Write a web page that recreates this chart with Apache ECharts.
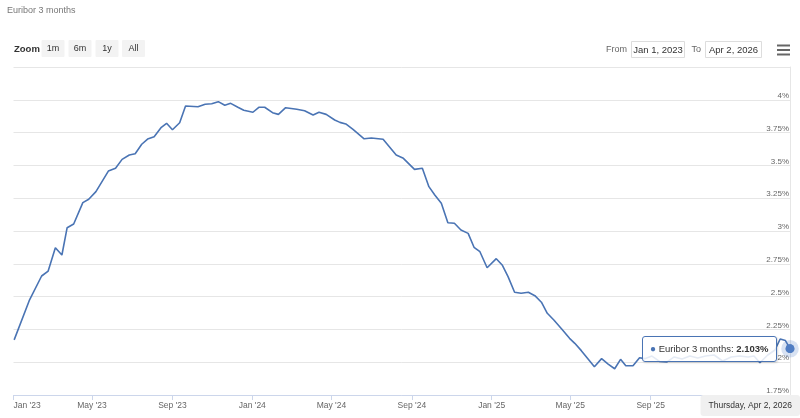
<!DOCTYPE html>
<html>
<head>
<meta charset="utf-8">
<script src="https://cdn.jsdelivr.net/npm/echarts@6/dist/echarts.min.js"></script>
<style>
html,body{margin:0;padding:0;background:#fff;}
#chart{width:800px;height:418px;}
</style>
</head>
<body>
<div id="chart"></div>
<script>
const seriesName = 'Euribor 3 months';
const dates = [
'2023-01-02','2023-01-25','2023-02-13','2023-02-23','2023-03-06','2023-03-16','2023-03-24','2023-04-03','2023-04-17','2023-04-26',
'2023-05-07','2023-05-26','2023-06-06','2023-06-16','2023-06-27','2023-07-06','2023-07-16','2023-07-25','2023-08-04','2023-08-15',
'2023-08-23','2023-09-01','2023-09-12','2023-09-21','2023-10-10','2023-10-21','2023-10-31','2023-11-10','2023-11-20','2023-11-29',
'2023-12-10','2023-12-19','2024-01-02','2024-01-11','2024-01-20','2024-02-01','2024-02-10','2024-02-21','2024-03-09','2024-03-21',
'2024-04-03','2024-04-12','2024-04-23','2024-05-06','2024-05-14','2024-05-23','2024-06-03','2024-06-20','2024-07-01','2024-07-19',
'2024-08-08','2024-08-19','2024-09-05','2024-09-17','2024-09-27','2024-10-06','2024-10-16','2024-10-26','2024-11-05','2024-11-15',
'2024-11-26','2024-12-05','2024-12-14','2024-12-25','2025-01-08','2025-01-17','2025-01-26','2025-02-05','2025-02-15','2025-02-26',
'2025-03-08','2025-03-18','2025-03-27','2025-04-06','2025-04-18','2025-04-30','2025-05-08','2025-05-18','2025-06-07','2025-06-18',
'2025-06-28','2025-07-08','2025-07-17','2025-07-25','2025-08-05','2025-08-15','2025-08-23','2025-09-03','2025-09-15','2025-09-26',
'2025-10-07','2025-10-19','2025-10-31','2025-11-12','2025-11-24','2025-12-07','2025-12-20','2026-01-02','2026-01-15','2026-01-28',
'2026-02-06','2026-02-15','2026-02-27','2026-03-10','2026-03-18','2026-03-26','2026-04-02'
];
const values = [
2.170,2.469,2.657,2.695,2.873,2.817,3.025,3.053,3.216,3.242,
3.300,3.457,3.478,3.546,3.579,3.589,3.661,3.701,3.719,3.790,
3.821,3.772,3.825,3.953,3.947,3.966,3.970,3.986,3.958,3.973,
3.943,3.920,3.905,3.943,3.943,3.902,3.889,3.940,3.928,3.917,
3.884,3.905,3.889,3.846,3.828,3.816,3.775,3.703,3.709,3.699,
3.579,3.554,3.470,3.478,3.338,3.274,3.211,3.063,3.059,3.008,
2.982,2.876,2.842,2.720,2.789,2.741,2.652,2.533,2.525,2.533,
2.507,2.457,2.373,2.322,2.253,2.182,2.144,2.088,1.966,2.027,
1.986,1.950,2.022,1.973,1.973,2.034,2.027,2.047,2.005,2.002,
2.040,2.024,2.047,2.032,2.047,2.055,2.009,2.040,2.047,2.040,
2.047,1.996,2.055,2.093,2.177,2.165,2.103
];
const tickDates = ['2023-01-01','2023-05-01','2023-09-01','2024-01-01','2024-05-01','2024-09-01','2025-01-01','2025-05-01','2025-09-01','2026-01-01'];
const tickLabels = ["Jan '23","May '23","Sep '23","Jan '24","May '24","Sep '24","Jan '25","May '25","Sep '25","Jan '26"];
const yTicks = [1.75,2,2.25,2.5,2.75,3,3.25,3.5,3.75,4,4.25];
const yTickLabels = ['1.75%','2%','2.25%','2.5%','2.75%','3%','3.25%','3.5%','3.75%','4%',''];
const rangeButtons = ['1m','6m','1y','All'];
const fromText = 'Jan 1, 2023';
const toText = 'Apr 2, 2026';
const xMin = '2023-01-01';
const xMax = '2026-04-02';

function ts(s){ const p = s.split('-').map(Number); return new Date(p[0], p[1]-1, p[2]).getTime(); }
const tickTimes = tickDates.map(ts);
const seriesData = dates.map((d,i)=>[ts(d), values[i]]);
const last = seriesData[seriesData.length-1];
const lineColor = '#4a74b4';
const FONT = '"Liberation Sans", Arial, sans-serif';
const WEEKDAYS = ['Sunday','Monday','Tuesday','Wednesday','Thursday','Friday','Saturday'];
const MONTHS = ['Jan','Feb','Mar','Apr','May','Jun','Jul','Aug','Sep','Oct','Nov','Dec'];

const chart = echarts.init(document.getElementById('chart'), null, {renderer:'canvas'});

const graphics = [
  {type:'text', left:7, top:6, style:{text:seriesName, fill:'#777', font:'9px '+FONT}},
  {type:'text', left:14, top:44, style:{text:'Zoom', fill:'#333', font:'bold 9.5px '+FONT}}
];
const btnX = [41.5, 68.5, 95.5, 122];
rangeButtons.forEach((b,i)=>{
  graphics.push({type:'rect', shape:{x:btnX[i], y:40, width:23, height:17, r:1}, style:{fill:'#f3f3f3'}});
  graphics.push({type:'text', x:btnX[i]+11.5, y:49, style:{text:b, fill:'#333', font:'9px '+FONT, align:'center', verticalAlign:'middle'}});
});
graphics.push({type:'text', x:627, y:50, style:{text:'From', fill:'#666', font:'9px '+FONT, align:'right', verticalAlign:'middle'}});
graphics.push({type:'rect', shape:{x:631.5, y:41.5, width:53, height:16}, style:{fill:'#fff', stroke:'#ddd', lineWidth:1}});
graphics.push({type:'text', x:658, y:50, style:{text:fromText, fill:'#333', font:'9.5px '+FONT, align:'center', verticalAlign:'middle'}});
graphics.push({type:'text', x:701, y:50, style:{text:'To', fill:'#666', font:'9px '+FONT, align:'right', verticalAlign:'middle'}});
graphics.push({type:'rect', shape:{x:705.5, y:41.5, width:56, height:16}, style:{fill:'#fff', stroke:'#ddd', lineWidth:1}});
graphics.push({type:'text', x:733.5, y:50, style:{text:toText, fill:'#333', font:'9.5px '+FONT, align:'center', verticalAlign:'middle'}});
[45.5, 50, 54.5].forEach(y=>{
  graphics.push({type:'rect', shape:{x:777, y:y-1, width:13, height:2}, style:{fill:'#666'}});
});

const option = {
  animation:false,
  backgroundColor:'#fff',
  textStyle:{fontFamily:FONT},
  grid:{left:13.5, right:10, top:67, bottom:23, containLabel:false},
  graphic:graphics,
  tooltip:{
    trigger:'axis',
    alwaysShowContent:true,
    transitionDuration:0,
    backgroundColor:'rgba(255,255,255,0.85)',
    borderColor:lineColor,
    borderWidth:1,
    padding:[5,7],
    extraCssText:'border-radius:3px;box-shadow:1px 1px 2px rgba(0,0,0,0.15);',
    textStyle:{fontFamily:FONT, fontSize:9.5, color:'#333'},
    position:function(pt, params, dom, rect, size){
      return [pt[0]-size.contentSize[0]-13, pt[1]-size.contentSize[1]/2];
    },
    formatter:function(params){
      const p = params.filter(q=>q.seriesIndex===0)[0];
      if(!p) return '';
      return '<span style="color:'+lineColor+';font-size:10px">\u25CF</span> '+seriesName+': <b>'+p.value[1].toFixed(3)+'%</b>';
    },
    axisPointer:{
      type:'line',
      lineStyle:{color:'rgba(0,0,0,0)'},
      label:{
        show:true,
        margin:0,
        backgroundColor:'#f0f0f0',
        color:'#333',
        fontSize:8.5,
        fontFamily:FONT,
        padding:[6,8,6,8],
        shadowBlur:0,
        formatter:function(p){
          const d = new Date(p.value);
          return WEEKDAYS[d.getDay()]+', '+MONTHS[d.getMonth()]+' '+d.getDate()+', '+d.getFullYear();
        }
      }
    }
  },
  xAxis:{
    type:'value',
    min:ts(xMin),
    max:ts(xMax),
    axisLine:{show:true, lineStyle:{color:'#ccd6eb', width:1}},
    axisTick:{show:true, customValues:tickTimes, length:5, lineStyle:{color:'#ccd6eb'}},
    axisLabel:{
      customValues:tickTimes,
      alignMinLabel:'left',
      margin:6,
      color:'#666',
      fontSize:8.5,
      fontFamily:FONT,
      formatter:function(v){
        const i = tickTimes.indexOf(v);
        return i>=0 ? tickLabels[i] : '';
      }
    },
    splitLine:{show:false}
  },
  yAxis:{
    type:'value',
    position:'right',
    min:1.75,
    max:4.25,
    interval:0.25,
    axisLine:{show:true, lineStyle:{color:'#e6e6e6'}},
    axisTick:{show:false},
    splitLine:{show:true, lineStyle:{color:'#e6e6e6', width:1}},
    axisLabel:{
      inside:true,
      margin:1,
      color:'#666',
      fontSize:8,
      fontFamily:FONT,
      verticalAlign:'bottom',
      padding:[0,0,0,0],
      showMaxLabel:false,
      formatter:function(v){
        const i = yTicks.findIndex(t=>Math.abs(t-v)<1e-9);
        return i>=0 ? yTickLabels[i] : '';
      }
    }
  },
  series:[
    {
      name:seriesName,
      type:'line',
      data:seriesData,
      showSymbol:false,
      symbol:'circle',
      symbolSize:8,
      lineStyle:{color:lineColor, width:1.6},
      itemStyle:{color:lineColor},
      emphasis:{disabled:true},
      z:3
    },
    {
      type:'scatter',
      data:[last],
      symbolSize:16,
      itemStyle:{color:'rgba(74,116,180,0.28)'},
      silent:true,
      z:4
    },
    {
      type:'scatter',
      data:[last],
      symbolSize:8,
      itemStyle:{color:lineColor},
      silent:true,
      z:5
    }
  ]
};
chart.setOption(option);
chart.dispatchAction({type:'showTip', seriesIndex:0, dataIndex:values.length-1});
</script>
</body>
</html>
